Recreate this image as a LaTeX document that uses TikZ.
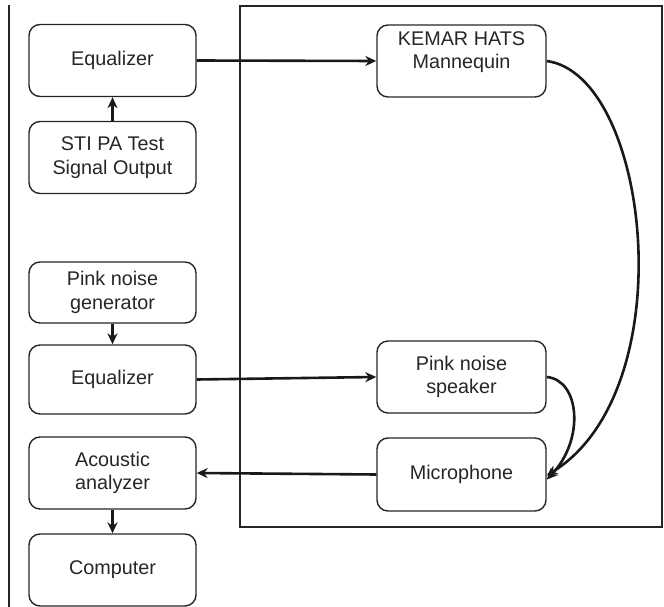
\documentclass[tikz,border=0pt]{standalone}
\usepackage{fontspec}
\setmainfont{Liberation Sans}
\usetikzlibrary{arrows.meta}
\begin{document}
\begin{tikzpicture}[x=1pt,y=-1pt,
  blk/.style={draw=black!85,line width=1.4pt,rounded corners=11pt,minimum width=167pt,minimum height=72pt,align=center,inner sep=2pt,font=\fontsize{19.8}{23.5}\selectfont,text=black!85},
  conn/.style={draw=black!90,line width=2.6pt,-{Stealth[length=11pt,width=10pt]}},
  frame/.style={draw=black!85,line width=2.6pt}]
\useasboundingbox (0,0) rectangle (664,607);
\draw[line width=1.3pt,black!85] (9,5) -- (9,607);
\draw[frame] (240,6) rectangle (662,527);
\node[blk] (eq1) at (112.5,60.5) {Equalizer};
\node[blk] (sti) at (112.5,157.5) {STI PA Test\\Signal Output};
\node[blk,minimum height=61pt] (png) at (112.5,292.5) {Pink noise\\generator};
\node[blk,minimum height=69pt] (eq2) at (112.5,379.5) {Equalizer};
\node[blk] (aa) at (112.5,473) {Acoustic\\analyzer};
\node[blk] (comp) at (112.5,570) {Computer};
\node[blk,minimum width=169pt] (kemar) at (461.5,61) {KEMAR HATS\\Mannequin\\[-2pt]};
\node[blk,minimum width=169pt] (spk) at (461.5,377) {Pink noise\\speaker};
\node[blk,minimum width=169pt,minimum height=73pt] (mic) at (461.5,474.5) {Microphone};
\draw[conn] (sti) -- (eq1);
\draw[conn] (png) -- (eq2);
\draw[conn] (aa) -- (comp);
\draw[conn] (eq1.east) -- (kemar.west);
\draw[conn] (eq2.east) -- (spk.west);
\draw[conn] (mic.west) -- (aa.east);
\draw[conn] (kemar.east) .. controls (650,75) and (685,390) .. ([yshift=-1pt]mic.east);
\draw[conn] (spk.east) .. controls (580,380) and (585,440) .. ([yshift=-5pt]mic.east);
\end{tikzpicture}
\end{document}
